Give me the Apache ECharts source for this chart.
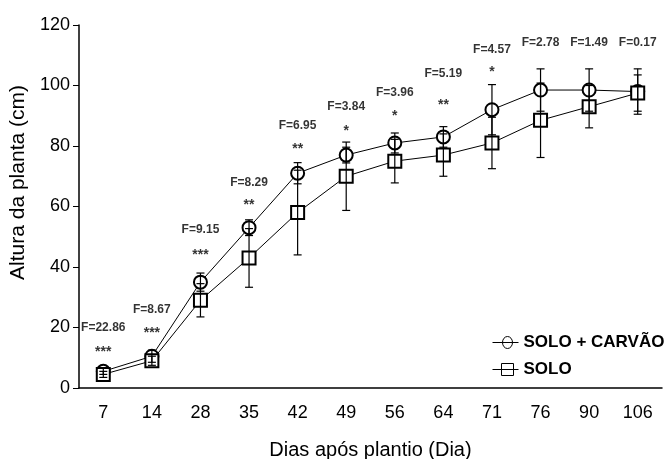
<!DOCTYPE html>
<html>
<head>
    <meta charset="utf-8">
    <title>Altura da planta</title>
    <script src="https://cdn.jsdelivr.net/npm/echarts@6/dist/echarts.min.js"></script>
    <style>
        body { margin: 0; background: #fff; }
    </style>
</head>
<body>
<div id="main" style="width: 667px;height:459px;"></div>
<script type="text/javascript">
    // dias apos plantio
    var dias = ['7', '14', '28', '35', '42', '49', '56', '64', '71', '76', '90', '106'];

    // SOLO + CARVAO (media e desvio)
    var carvao = [5.5, 10.5, 35, 53, 71, 77, 81, 83, 92, 98.5, 98.5, 98];
    var carvaoDp = [1, 2, 3, 2.6, 3.5, 2.6, 3.3, 3.4, 8.3, 7, 7, 7.5];

    // SOLO
    var solo = [4.5, 9, 29, 43, 58, 70, 75, 77, 81, 88.5, 93, 97.5];
    var soloDp = [1, 1.5, 5.5, 9.7, 14, 11.3, 7.2, 7, 8.5, 12.3, 7, 6];

    // valores de F e significancia
    var fTexto = ['F=22.86', 'F=8.67', 'F=9.15', 'F=8.29', 'F=6.95', 'F=3.84', 'F=3.96', 'F=5.19', 'F=4.57', 'F=2.78', 'F=1.49', 'F=0.17'];
    var fAltura = [19.8, 26, 52.5, 68, 86.6, 93, 97.5, 104, 112, 114, 114, 114];
    var estrelas = ['***', '***', '***', '**', '**', '*', '*', '**', '*', '', '', ''];
    var estrelasAltura = [12, 18, 44, 60.5, 79, 85, 90, 93.5, 104.5, null, null, null];

    var myChart = echarts.init(document.getElementById('main'));

    var fonte = 'Liberation Sans, Arial, sans-serif';

    function barras(medias, dps) {
        var d = [];
        for (var i = 0; i < medias.length; i++) {
            d.push([i, medias[i] - dps[i], medias[i] + dps[i]]);
        }
        return d;
    }

    function desenhaBarra(params, api) {
        var x = api.value(0);
        var lo = api.coord([x, api.value(1)]);
        var hi = api.coord([x, api.value(2)]);
        var w = 4;
        var st = { stroke: '#000', lineWidth: 1.2 };
        return {
            type: 'group',
            children: [
                { type: 'line', shape: { x1: lo[0], y1: lo[1], x2: hi[0], y2: hi[1] }, style: st },
                { type: 'line', shape: { x1: lo[0] - w, y1: lo[1], x2: lo[0] + w, y2: lo[1] }, style: st },
                { type: 'line', shape: { x1: hi[0] - w, y1: hi[1], x2: hi[0] + w, y2: hi[1] }, style: st }
            ]
        };
    }

    function rotulos(textos, alturas) {
        var d = [];
        for (var i = 0; i < textos.length; i++) {
            if (alturas[i] != null) d.push([i, alturas[i], textos[i]]);
        }
        return d;
    }

    // icones da legenda: linha atravessando o simbolo
    var iconeVazio = { color: 'transparent', borderColor: '#000', borderWidth: 1 };
    var iconeCirculo = 'path://M0,6L26,6M10,6A5,6,0,1,1,20,6A5,6,0,1,1,10,6';
    var iconeQuadrado = 'path://M0,6L26,6M9,0L21,0L21,12L9,12Z';

    var option = {
        animation: false,
        backgroundColor: '#fff',
        textStyle: { fontFamily: fonte, color: '#000' },
        grid: { left: 79, right: 5, top: 25, bottom: 71, outerBoundsMode: 'none', containLabel: false },
        legend: {
            data: [
                { name: 'SOLO + CARVÃO', icon: iconeCirculo, itemStyle: iconeVazio },
                { name: 'SOLO', icon: iconeQuadrado, itemStyle: iconeVazio }
            ],
            orient: 'vertical',
            left: 487,
            top: 328,
            itemWidth: 26,
            itemHeight: 12,
            itemGap: 8,
            textStyle: { fontSize: 17, fontWeight: 'bold', lineHeight: 19, color: '#000', fontFamily: fonte }
        },
        xAxis: {
            type: 'category',
            data: dias,
            name: 'Dias após plantio (Dia)',
            nameLocation: 'middle',
            nameGap: 52,
            nameTextStyle: { fontSize: 20, color: '#000' },
            axisLine: { lineStyle: { color: '#000', width: 1.5 } },
            axisTick: { lineStyle: { color: '#000' }, length: 5 },
            axisLabel: { fontSize: 18, color: '#000', margin: 16 }
        },
        yAxis: {
            type: 'value',
            min: 0,
            max: 120,
            interval: 20,
            name: 'Altura da planta (cm)',
            nameLocation: 'middle',
            nameGap: 46,
            nameTextStyle: { fontSize: 21, color: '#000', padding: [0, 0, 0, 48] },
            axisLine: { show: true, lineStyle: { color: '#000', width: 1.5 } },
            axisTick: { show: true, lineStyle: { color: '#000' }, length: 6 },
            axisLabel: { fontSize: 18, color: '#000', margin: 9 },
            splitLine: { show: false }
        },
        series: [
            {
                name: 'SOLO + CARVÃO',
                type: 'line',
                data: carvao,
                symbol: 'emptyCircle',
                symbolSize: 13,
                itemStyle: { color: '#000', borderWidth: 1 },
                lineStyle: { color: '#000', width: 1 },
                z: 3
            },
            {
                name: 'SOLO',
                type: 'line',
                data: solo,
                symbol: 'emptyRect',
                symbolSize: 13,
                itemStyle: { color: '#000', borderWidth: 1 },
                lineStyle: { color: '#000', width: 1 },
                z: 3
            },
            {
                type: 'custom',
                renderItem: desenhaBarra,
                data: barras(carvao, carvaoDp),
                z: 5,
                silent: true
            },
            {
                type: 'custom',
                renderItem: desenhaBarra,
                data: barras(solo, soloDp),
                z: 5,
                silent: true
            },
            {
                type: 'scatter',
                data: rotulos(fTexto, fAltura),
                symbolSize: 0,
                silent: true,
                label: {
                    show: true,
                    position: 'inside',
                    formatter: function (p) { return p.value[2]; },
                    fontSize: 12,
                    fontWeight: 'bold',
                    color: '#000'
                }
            },
            {
                type: 'scatter',
                data: rotulos(estrelas, estrelasAltura),
                symbolSize: 0,
                silent: true,
                label: {
                    show: true,
                    position: 'inside',
                    formatter: function (p) { return p.value[2]; },
                    fontSize: 14,
                    fontWeight: 'bold',
                    color: '#000'
                }
            }
        ]
    };

    myChart.setOption(option);
</script>
</body>
</html>
